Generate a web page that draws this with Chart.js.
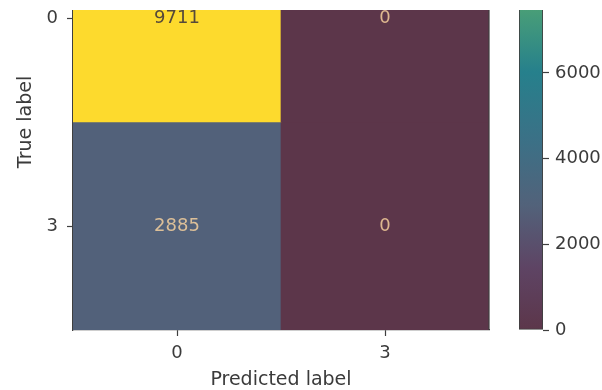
<!DOCTYPE html>
<html>
<head>
<meta charset="utf-8">
<script src="https://cdn.jsdelivr.net/npm/chart.js@4/dist/chart.umd.min.js"></script>
<style>
  html, body { margin: 0; padding: 0; background: #fff; width: 602px; height: 390px; overflow: hidden; }
  #view { position: absolute; left: 0; top: 10px; width: 602px; height: 380px; overflow: hidden; background: #fff; }
  .layer { position: absolute; left: 0; top: -100px; width: 602px; height: 480px; }
</style>
</head>
<body>
<div id="view">
  <div class="layer"><canvas id="matrix" width="602" height="480"></canvas></div>
  <div class="layer"><canvas id="colorbar" width="602" height="480"></canvas></div>
</div>
<script>
// Confusion matrix: rows are true labels, columns are predicted labels
const predictedLabels = ['0', '3'];
const trueLabels = ['0', '3'];
const countsTrue0 = [9711, 0];
const countsTrue3 = [2885, 0];
const counts = [countsTrue0, countsTrue3];
const colorbarTicks = [0, 2000, 4000, 6000, 8000];

const vmin = 0;
const vmax = Math.max(...counts.flat());

// Muted viridis-like colour ramp (fraction -> rgb)
const colorStops = [
  [0.00, [92, 54, 74]],
  [0.15, [94, 68, 100]],
  [0.30, [82, 98, 122]],
  [0.45, [60, 112, 134]],
  [0.62, [38, 128, 140]],
  [0.78, [75, 160, 118]],
  [0.90, [170, 200, 70]],
  [1.00, [253, 218, 45]]
];

function rampRGB(t) {
  t = Math.min(1, Math.max(0, t));
  for (let k = 1; k < colorStops.length; k++) {
    const [t1, c1] = colorStops[k];
    const [t0, c0] = colorStops[k - 1];
    if (t <= t1) {
      const f = (t - t0) / (t1 - t0);
      return c0.map((c, n) => Math.round(c + (c1[n] - c) * f));
    }
  }
  return colorStops[colorStops.length - 1][1];
}
const rgb = a => `rgb(${a[0]},${a[1]},${a[2]})`;
const cellColor = v => rgb(rampRGB((v - vmin) / (vmax - vmin)));

function textColor(v) {
  if (v > (vmin + vmax) / 2) return '#56493a';
  const bg = rampRGB((v - vmin) / (vmax - vmin));
  const light = [255, 215, 160];
  return rgb(light.map((c, n) => Math.round(c * 0.8 + bg[n] * 0.2)));
}

const FONT = "'DejaVu Sans', sans-serif";
const TICK = '#3b3b3b';
const SPINE = '#3f3f3f';

// Count written in the middle of each cell
const cellText = {
  id: 'cellText',
  afterDatasetsDraw(chart) {
    const { ctx, scales: { x, y } } = chart;
    ctx.save();
    ctx.font = `18px ${FONT}`;
    ctx.textAlign = 'center';
    ctx.textBaseline = 'middle';
    counts.forEach((row, i) => row.forEach((v, j) => {
      ctx.fillStyle = textColor(v);
      ctx.fillText(String(v), x.getPixelForValue(j), y.getPixelForValue(i));
    }));
    ctx.restore();
  }
};

// Right and top spines of the matrix axes
const frame = {
  id: 'frame',
  afterDraw(chart) {
    const { ctx, chartArea: a } = chart;
    ctx.save();
    ctx.strokeStyle = SPINE;
    ctx.lineWidth = 1.2;
    ctx.beginPath();
    ctx.moveTo(a.left, a.top);
    ctx.lineTo(a.right, a.top);
    ctx.lineTo(a.right, a.bottom);
    ctx.stroke();
    ctx.restore();
  }
};

// Fixed axis thickness, no extra room reserved for edge labels
const fixWidth = w => s => { s.width = w; s.paddingTop = 0; s.paddingBottom = 0; };
const fixHeight = h => s => { s.height = h; s.paddingLeft = 0; s.paddingRight = 0; };

const tickGrid = { drawOnChartArea: false, drawTicks: true, tickLength: 6, tickColor: SPINE, tickWidth: 1.2 };
const axisBorder = { display: true, color: SPINE, width: 1.2 };

new Chart(document.getElementById('matrix'), {
  type: 'bar',
  data: {
    labels: predictedLabels,
    datasets: counts.map((row, i) => ({
      label: 'True ' + trueLabels[i],
      data: row.map(() => [i - 0.5, i + 0.5]),
      backgroundColor: row.map(v => cellColor(v)),
      borderWidth: 0,
      grouped: false,
      barPercentage: 1,
      categoryPercentage: 1
    }))
  },
  options: {
    responsive: false,
    animation: false,
    layout: { padding: { left: 0, top: 4, right: 113, bottom: 0 } },
    plugins: { legend: { display: false }, tooltip: { enabled: false } },
    scales: {
      x: {
        type: 'category',
        offset: true,
        grid: Object.assign({ offset: false }, tickGrid),
        border: axisBorder,
        ticks: { color: TICK, font: { family: FONT, size: 18 }, padding: 7, maxRotation: 0 },
        title: {
          display: true, text: 'Predicted label', color: TICK,
          font: { family: FONT, size: 19, lineHeight: 1 }, padding: { top: 0, bottom: 0 }
        },
        afterFit: fixHeight(60)
      },
      y: {
        type: 'linear',
        reverse: true,
        min: -0.5,
        max: 1.5,
        afterBuildTicks: s => { s.ticks = trueLabels.map((_, i) => ({ value: i })); },
        grid: tickGrid,
        border: axisBorder,
        ticks: { color: TICK, font: { family: FONT, size: 18 }, padding: 9, callback: v => trueLabels[v] },
        title: {
          display: true, text: 'True label', color: TICK,
          font: { family: FONT, size: 19, lineHeight: 1 }, padding: { top: 17, bottom: 0 }
        },
        afterFit: fixWidth(73)
      }
    }
  },
  plugins: [cellText, frame]
});

// Colour bar: one bar spanning the value range, filled with the ramp
new Chart(document.getElementById('colorbar'), {
  type: 'bar',
  data: {
    labels: [''],
    datasets: [{
      data: [[vmin, vmax]],
      backgroundColor: ctx => {
        const chart = ctx.chart;
        const ys = chart.scales.y;
        if (!ys || !chart.chartArea) return cellColor(vmin);
        const g = chart.ctx.createLinearGradient(0, ys.getPixelForValue(vmin), 0, ys.getPixelForValue(vmax));
        colorStops.forEach(([t, c]) => g.addColorStop(t, rgb(c)));
        return g;
      },
      borderColor: SPINE,
      borderWidth: 1.2,
      borderSkipped: false,
      barPercentage: 1,
      categoryPercentage: 1
    }]
  },
  options: {
    responsive: false,
    animation: false,
    layout: { padding: { left: 519, top: 4, right: 0, bottom: 60 } },
    plugins: { legend: { display: false }, tooltip: { enabled: false } },
    scales: {
      x: { display: false },
      y: {
        position: 'right',
        min: vmin,
        max: vmax,
        afterBuildTicks: s => { s.ticks = colorbarTicks.map(v => ({ value: v })); },
        grid: tickGrid,
        border: { display: false },
        ticks: { color: TICK, font: { family: FONT, size: 18 }, padding: 6, callback: v => String(v) },
        afterFit: fixWidth(59)
      }
    }
  }
});
</script>
</body>
</html>
